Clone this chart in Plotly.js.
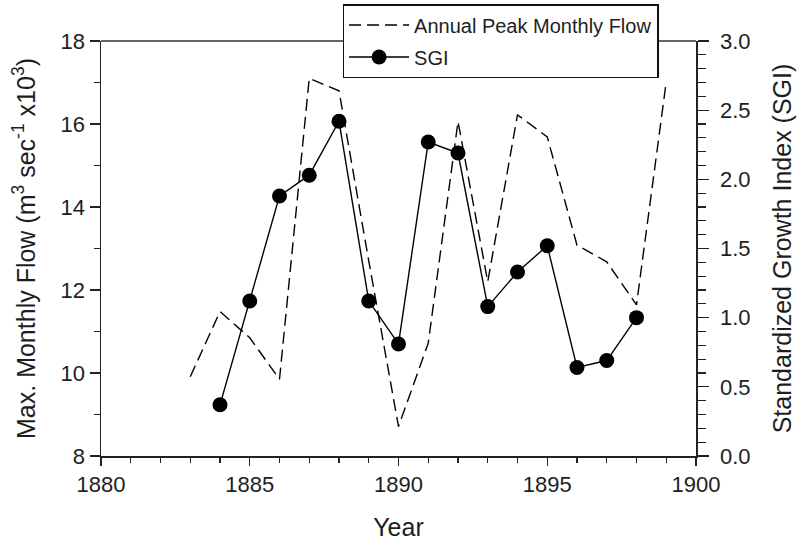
<!DOCTYPE html>
<html>
<head>
<meta charset="utf-8">
<script src="https://cdn.plot.ly/plotly-3.0.1.min.js"></script>
<style>html,body{margin:0;padding:0;background:#fff;}#chart{width:800px;height:549px;}</style>
</head>
<body>
<div id="chart"></div>
<script>
const flowYears = [1883,1884,1885,1886,1887,1888,1889,1890,1891,1892,1893,1894,1895,1896,1897,1898,1899];
const flowValues = [9.91,11.48,10.85,9.85,17.10,16.80,12.7,8.71,10.72,16.06,12.2,16.22,15.69,13.08,12.68,11.64,17.02];
const sgiYears = [1884,1885,1886,1887,1888,1889,1890,1891,1892,1893,1894,1895,1896,1897,1898];
const sgiValues = [0.37,1.12,1.88,2.03,2.42,1.12,0.81,2.27,2.19,1.08,1.33,1.52,0.64,0.69,1.00];
const xTickVals = [1880,1885,1890,1895,1900];
const flowTickVals = [8,10,12,14,16,18];
const sgiTickVals = [0,0.5,1,1.5,2,2.5,3];

const FONT = 'Liberation Sans, Arial, sans-serif';
const TXT = '#1e1e1e';

const traces = [
  {x: flowYears, y: flowValues, type: 'scatter', mode: 'lines', name: 'Annual Peak Monthly Flow',
   legendgroup: 'a', line: {color: '#000', width: 1.4, dash: '12px,6px'}, xaxis: 'x', yaxis: 'y'},
  {x: sgiYears, y: sgiValues, type: 'scatter', mode: 'lines+markers', name: 'SGI',
   legendgroup: 'b', line: {color: '#000', width: 1.4}, marker: {color: '#000', size: 15}, xaxis: 'x', yaxis: 'y2'}
];

const layout = {
  width: 800, height: 549,
  margin: {l: 101, r: 104, t: 41, b: 93, autoexpand: false},
  paper_bgcolor: '#fff', plot_bgcolor: '#fff',
  font: {family: FONT, size: 22, color: TXT},
  showlegend: true,
  legend: {x: 0.406, y: 1.089, xanchor: 'left', yanchor: 'top', bgcolor: '#fff',
           bordercolor: '#111', borderwidth: 1.5, font: {family: FONT, size: 20, color: TXT},
           itemwidth: 60, tracegroupgap: 3},
  xaxis: {range: [1880, 1900], tickvals: xTickVals, ticks: 'outside', ticklen: 8, tickwidth: 1.2,
          tickcolor: '#222', showline: true, linecolor: '#222', linewidth: 1.5, showgrid: false, zeroline: false,
          tickfont: {family: FONT, size: 22, color: TXT},
          minor: {dtick: 1, ticks: 'outside', ticklen: 5, tickcolor: '#222', showgrid: false},
          title: {text: 'Year', font: {family: FONT, size: 25, color: TXT}, standoff: 22}},
  yaxis: {range: [8, 18], tickvals: flowTickVals, ticks: 'outside', ticklen: 10, tickwidth: 1.2,
          tickcolor: '#222', showline: true, linecolor: '#222', linewidth: 1.5, showgrid: false, zeroline: false,
          tickfont: {family: FONT, size: 22, color: TXT},
          minor: {dtick: 1, ticks: 'outside', ticklen: 6, tickcolor: '#222', showgrid: false},
          title: {text: 'Max. Monthly Flow (m<sup>3</sup> sec<sup>-1</sup> x10<sup>3</sup>)', font: {family: FONT, size: 25, color: TXT}, standoff: 18}},
  yaxis2: {range: [0, 3], tickvals: sgiTickVals, tickformat: '.1f', overlaying: 'y', side: 'right',
          ticks: 'outside', ticklen: 11, tickwidth: 1.2, tickcolor: '#222', showline: true, linecolor: '#222',
          linewidth: 1.5, showgrid: false, zeroline: false, ticklabelstandoff: 7,
          tickfont: {family: FONT, size: 22, color: TXT},
          minor: {dtick: 0.1, ticks: 'outside', ticklen: 8, tickcolor: '#222', showgrid: false},
          title: {text: 'Standardized Growth Index (SGI)', font: {family: FONT, size: 25, color: TXT}, standoff: 24}},
  shapes: [{type: 'line', xref: 'paper', yref: 'paper', x0: 0, x1: 1, y0: 1, y1: 1,
            line: {color: '#666', width: 2}, layer: 'below'}]
};

Plotly.newPlot('chart', traces, layout, {displayModeBar: false, staticPlot: true});
</script>
</body>
</html>
